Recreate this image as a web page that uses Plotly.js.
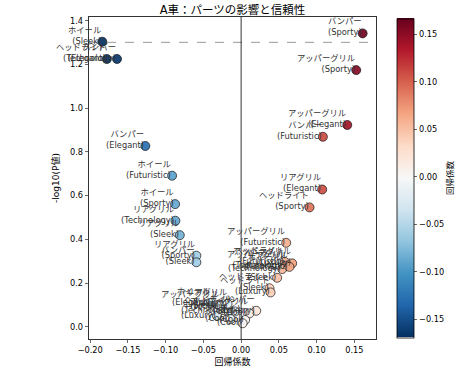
<!DOCTYPE html>
<html><head><meta charset="utf-8">
<script src="https://cdn.plot.ly/plotly-3.0.1.min.js"></script>
<style>body{margin:0;padding:0;background:#fff}#chart{width:461px;height:371px}</style>
</head><body><div id="chart"></div>
<script>
// Data
const parts = ["バンパー","アッパーグリル","アッパーグリル","バンパー","リアグリル","ヘッドライト",
  "ホイール","ヘッドライト","バンパー","バンパー","ホイール","ホイール","リアグリル","リアグリル","リアグリル","バンパー",
  "アッパーグリル","アッパーグリル","ヘッドライト","アッパーグリル","ホイール","リアグリル","ホイール","ヘッドライト","ヘッドライト",
  "ホイール","アッパーグリル","リアグリル","ヘッドライト","バンパー","アッパーグリル","ホイール","リアグリル","ヘッドライト","バンパー"];
const styles = ["Sporty","Sporty","Elegant","Futuristic","Elegant","Sporty",
  "Sleek","Elegant","Technology","Elegant","Futuristic","Sporty","Technology","Sleek","Sporty","Sleek",
  "Futuristic","Luxury","Futuristic","Technology","Technology","Futuristic","Sleek","Sleek","Luxury",
  "Elegant","Sleek","Luxury","Technology","Luxury","Cool","Luxury","Cool","Cool","Cool"];
const coefs = [0.161,0.1525,0.1406,0.1083,0.1074,0.0906,
  -0.184,-0.178,-0.1645,-0.127,-0.0915,-0.0875,-0.0871,-0.0813,-0.0593,-0.0593,
  0.0597,0.0676,0.0575,0.0589,0.0544,0.064,0.0477,0.0376,0.039,
  -0.040,-0.028,-0.018,-0.008,0.020,0.011,-0.032,-0.014,0.0053,0.002];
const negLogP = [1.342,1.174,0.923,0.869,0.628,0.546,
  1.304,1.225,1.225,0.827,0.691,0.561,0.485,0.419,0.325,0.295,
  0.384,0.290,0.297,0.279,0.264,0.274,0.224,0.176,0.157,
  0.110,0.095,0.105,0.070,0.073,0.061,0.050,0.035,0.031,0.016];
const alphaLine = 0.05;
const xTicks = [-0.20,-0.15,-0.10,-0.05,0.00,0.05,0.10,0.15];
const yTicks = [0.0,0.2,0.4,0.6,0.8,1.0,1.2,1.4];
const cbTicks = [-0.15,-0.10,-0.05,0.00,0.05,0.10,0.15];

const font = "DejaVu Sans, 'Noto Sans CJK JP', sans-serif";
const rdbu_r = [[0,'#053061'],[0.1,'#2166ac'],[0.2,'#4393c3'],[0.3,'#92c5de'],[0.4,'#d1e5f0'],[0.5,'#f7f7f7'],
  [0.6,'#fddbc7'],[0.7,'#f4a582'],[0.8,'#d6604d'],[0.9,'#b2182b'],[1,'#67001f']];
const fmt = v => (v<0?'\u2212':'') + Math.abs(v).toFixed(2);

const trace = {
  type:'scatter', mode:'markers', x: coefs, y: negLogP,
  marker:{size:9, color: coefs, colorscale: rdbu_r, cmin:-0.169, cmax:0.1665,
    line:{color:'#000', width:0.7}, opacity:0.92,
    colorbar:{x:1.073, xanchor:'left', y:0.5, yanchor:'middle', len:0.99, lenmode:'fraction', ypad:0, xpad:0,
      thickness:17, outlinewidth:0.8, outlinecolor:'#000', ticks:'outside', ticklen:3.5, tickwidth:0.8,
      tickvals: cbTicks, ticktext: cbTicks.map(fmt), tickfont:{family:font, size:8.2, color:'#000'},
      title:{text:''}}},
  hoverinfo:'skip', showlegend:false
};

const annotations = coefs.map((c,i)=>({x:c, y:negLogP[i], xref:'x', yref:'y',
  text: parts[i]+'<br>('+styles[i]+')', showarrow:false, xanchor:'right', yanchor:'bottom', align:'right',
  yshift:-6, xshift:1, font:{family:font, size:8.3, color:'#333'}}));
annotations.push({xref:'paper', yref:'paper', x:1.258, y:0.5, text:'回帰係数', textangle:-90, showarrow:false,
  xanchor:'center', yanchor:'middle', font:{family:font, size:8.5, color:'#000'}});

const layout = {
  width:461, height:371, paper_bgcolor:'#fff', plot_bgcolor:'#fff',
  margin:{l:89, r:85, t:17, b:32},
  title:{text:'A車：パーツの影響と信頼性', x:0.5, xref:'paper', xanchor:'center', y:0.973, yanchor:'middle',
    font:{family:font, size:11.5, color:'#000'}},
  xaxis:{range:[-0.2016,0.1787], showgrid:false, zeroline:false, showline:true, linecolor:'#000', linewidth:0.8, mirror:true,
    ticks:'outside', ticklen:3.5, tickwidth:0.8, tickvals:xTicks, ticktext:xTicks.map(fmt),
    tickfont:{family:font, size:8.2, color:'#000'},
    title:{text:'回帰係数', standoff:4, font:{family:font, size:9, color:'#000'}}},
  yaxis:{range:[-0.056,1.417], showgrid:false, zeroline:false, showline:true, linecolor:'#000', linewidth:0.8, mirror:true,
    ticks:'outside', ticklen:3.5, tickwidth:0.8, tickvals:yTicks, ticktext:yTicks.map(v=>v.toFixed(1)),
    tickfont:{family:font, size:8.2, color:'#000'},
    title:{text:'-log10(P値)', standoff:8, font:{family:font, size:9, color:'#000'}}},
  shapes:[
    {type:'line', xref:'paper', x0:0, x1:1, yref:'y', y0:-Math.log10(alphaLine), y1:-Math.log10(alphaLine),
      line:{color:'#808080', width:0.8, dash:'dash'}},
    {type:'line', xref:'x', x0:0, x1:0, yref:'paper', y0:0, y1:1, line:{color:'#000', width:0.8}}
  ],
  annotations: annotations
};
Plotly.newPlot('chart',[trace],layout,{staticPlot:true, displayModeBar:false});
</script></body></html>
